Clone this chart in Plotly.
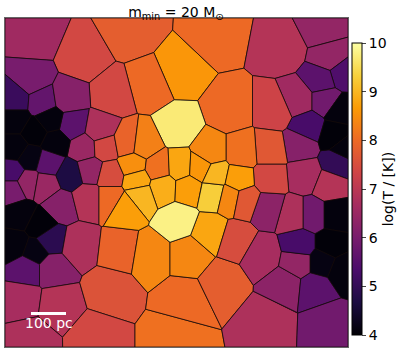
import numpy as np
import plotly.graph_objects as go
from plotly.colors import sample_colorscale

# Seed (particle) positions in box units (35 units = 100 pc) and log temperature
seed_x = [35, 82, 130, 180, 215, 283, 322, 330, 342, 322, 298, 326, 308, 300, 338, 305, 330,
          340, 335, 345, 335, 330, 342, 322,
          150, 112, 230, 275, 178,
          32, 15, 42, 68, 72, 84, 70, 100,
          15, 35, 55, 15, 30, 50,
          48, 12, 12, 28, 45, 60, 88, 90,
          20, 40, 15, 35, 50,
          27, 52, 78, 22, 58, 30,
          110, 95, 120, 175, 185, 150, 190, 210, 222, 236,
          268, 262, 285, 315, 327, 298, 300, 313, 293, 268, 270, 270, 242, 210,
          105, 127, 143, 110, 133, 158, 180, 200, 137, 163, 188, 110, 140, 125,
          178, 213, 215, 238, 230, 245]
seed_y = [38, 58, 30, 72, 35, 48, 28, 58, 74, 80, 100, 100, 127, 145, 163, 175, 185,
          110, 135, 148, 215, 245, 270, 262,
          85, 95, 110, 110, 128,
          80, 100, 102, 98, 125, 148, 175, 130,
          120, 132, 142, 148, 158, 120,
          163, 172, 190, 182, 185, 205, 198, 170,
          215, 225, 245, 252, 240,
          268, 268, 245, 300, 305, 338,
          290, 337, 250, 337, 300, 255, 255, 232, 282, 240,
          320, 255, 285, 288, 322, 262, 245, 215, 215, 208, 178, 150, 152, 152,
          147, 143, 145, 175, 165, 168, 167, 168, 180, 187, 188, 198, 195, 207,
          220, 193, 175, 180, 197, 200]
log_T = [6.6, 7.4, 7.8, 8.6, 8.0, 6.9, 6.4, 6.4, 5.4, 5.6, 6.6, 5.9, 5.3, 6.2, 5.0, 6.7, 6.9,
         4.1, 4.05, 4.1, 4.1, 4.05, 4.1, 4.15,
         8.0, 7.4, 8.0, 7.3, 9.7,
         6.0, 5.1, 5.7, 6.2, 5.6, 6.5, 4.7, 6.8,
         4.1, 4.05, 4.1, 4.1, 4.15, 4.1,
         5.6, 5.3, 6.0, 6.4, 6.5, 6.2, 6.9, 6.4,
         4.1, 4.05, 4.1, 4.15, 4.9,
         5.6, 6.2, 6.8, 6.7, 6.9, 6.8,
         7.6, 7.4, 7.9, 8.1, 8.0, 8.4, 8.4, 8.8, 7.8, 7.5,
         6.8, 6.7, 6.3, 5.6, 5.9, 6.4, 5.3, 5.9, 6.8, 6.3, 7.4, 7.7, 8.1, 8.4,
         7.4, 7.9, 8.3, 7.5, 8.5, 8.1, 8.8, 8.6, 8.8, 8.9, 8.7, 8.0, 9.0, 8.7,
         9.8, 9.3, 9.0, 8.7, 8.4, 7.7]

BOX_X = [5, 348]
BOX_Y = [18, 347]
T_MIN, T_MAX = 4, 10
colorbar_ticks = [4, 5, 6, 7, 8, 9, 10]


def clip(poly, a, b, c):
    """Keep the part of poly where a*x + b*y <= c."""
    out = []
    n = len(poly)
    for k in range(n):
        p = poly[k]
        q = poly[(k + 1) % n]
        fp = a * p[0] + b * p[1] - c
        fq = a * q[0] + b * q[1] - c
        if fp <= 0:
            out.append(p)
        if (fp < 0 < fq) or (fq < 0 < fp):
            t = fp / (fp - fq)
            out.append((p[0] + t * (q[0] - p[0]), p[1] + t * (q[1] - p[1])))
    return out


pts = np.column_stack([seed_x, seed_y]).astype(float)
box = [(BOX_X[0], BOX_Y[0]), (BOX_X[1], BOX_Y[0]), (BOX_X[1], BOX_Y[1]), (BOX_X[0], BOX_Y[1])]

fig = go.Figure()
for i, (sx, sy) in enumerate(pts):
    poly = list(box)
    for j, (tx, ty) in enumerate(pts):
        if i == j:
            continue
        a, b = 2 * (tx - sx), 2 * (ty - sy)
        c = tx * tx + ty * ty - sx * sx - sy * sy
        poly = clip(poly, a, b, c)
        if not poly:
            break
    if not poly:
        continue
    xs = [p[0] for p in poly] + [poly[0][0]]
    ys = [p[1] for p in poly] + [poly[0][1]]
    col = sample_colorscale('Inferno', [(log_T[i] - T_MIN) / (T_MAX - T_MIN)])[0]
    fig.add_trace(go.Scatter(x=xs, y=ys, mode='lines', fill='toself', fillcolor=col,
                             line=dict(color='rgba(20,10,10,0.85)', width=0.9),
                             hoverinfo='skip', showlegend=False))

# colorbar carrier
fig.add_trace(go.Scatter(
    x=[BOX_X[0]], y=[BOX_Y[0]], mode='markers', hoverinfo='skip', showlegend=False,
    marker=dict(size=0.1, opacity=0, color=[T_MIN], cmin=T_MIN, cmax=T_MAX,
                colorscale='Inferno', showscale=True,
                colorbar=dict(x=1.0117, xanchor='left', xpad=0, y=0.48, yanchor='middle',
                              len=0.948, lenmode='fraction', thickness=10, thicknessmode='pixels',
                              outlinewidth=1, outlinecolor='black',
                              tickvals=colorbar_ticks, ticks='outside', ticklen=4,
                              tickfont=dict(size=14, color='black'),
                              title=dict(text='log(T / [K])', side='right',
                                         font=dict(size=14, color='black'))))))

# scale bar: 100 pc = 35 box units
fig.add_shape(type='line', x0=31, x1=66, y0=313.5, y1=313.5, line=dict(color='white', width=3))
fig.add_annotation(x=48.5, y=323, text='100 pc', showarrow=False,
                   font=dict(size=14, color='white'), xanchor='center', yanchor='middle')

fig.update_layout(
    width=407, height=353,
    margin=dict(l=5, r=59, t=18, b=6, autoexpand=False),
    paper_bgcolor='white', plot_bgcolor='black',
    font=dict(family='DejaVu Sans', color='black'),
    title=dict(text='m<sub>min</sub> = 20 M<sub>⊙</sub>', x=0.432, xanchor='center',
               y=0.966, yanchor='middle', font=dict(size=14, color='black')),
)
fig.update_xaxes(range=BOX_X, showticklabels=False, ticks='', showgrid=False, zeroline=False,
                 showline=True, mirror=True, linecolor='#666', linewidth=1)
fig.update_yaxes(range=[BOX_Y[1], BOX_Y[0]], showticklabels=False, ticks='', showgrid=False,
                 zeroline=False, showline=True, mirror=True, linecolor='#666', linewidth=1)

fig.write_html('out.html', config={'displayModeBar': False},
               post_script="document.body.style.margin='0';document.body.style.overflow='hidden';")
